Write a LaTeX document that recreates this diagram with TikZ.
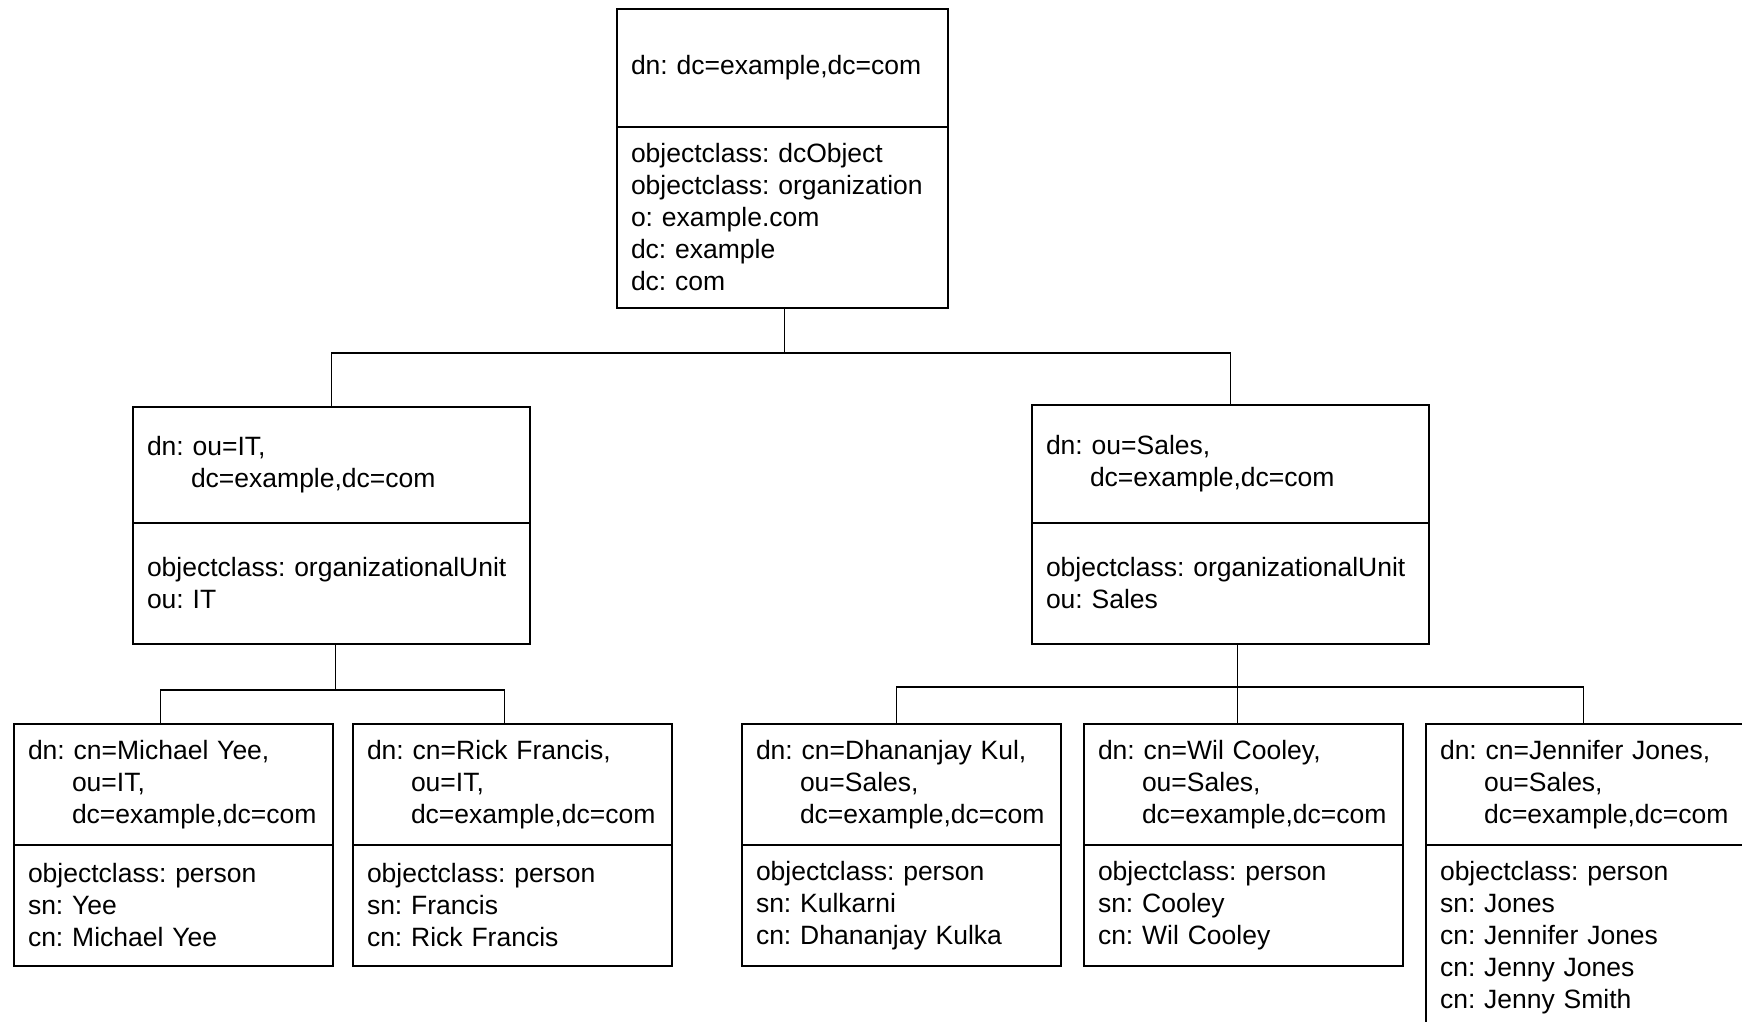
\documentclass[tikz,border=0pt]{standalone}
\usepackage{fontspec}
\setmainfont{Liberation Sans}
\usetikzlibrary{positioning}
\frenchspacing

\begin{document}
\begin{tikzpicture}[x=1pt, y=-1pt,
          entry/.style = {draw, line width=1.6pt, outer sep=0pt,
                          inner xsep=14pt, inner ysep=0pt, align=left,
                          font=\fontsize{26.5}{32}\selectfont\frenchspacing},
          rootbox/.style = {entry, text width=303pt},
          oubox/.style   = {entry, text width=369pt},
          cnbox/.style   = {entry, text width=291pt, minimum height=121pt},
          link/.style    = {line width=1.6pt}]
        \path[use as bounding box, clip] (0,0) rectangle (1742,1022);
        \fill[white] (0,0) rectangle (1742,1022);
        % root entry
        \node[rootbox, minimum height=118pt, anchor=north west] (root) at (617,9)
              {dn: dc=example,dc=com};
        \node[rootbox, minimum height=181pt, below=0pt of root] (rootattr)
              {objectclass: dcObject\\objectclass: organization\\o: example.com\\dc: example\\dc: com};
        % organizational units
        \node[oubox, minimum height=116pt, anchor=north west] (it) at (133,407)
              {dn: ou=IT,\\\hspace*{44pt}dc=example,dc=com};
        \node[oubox, minimum height=121pt, below=0pt of it] (itattr)
              {objectclass: organizationalUnit\\ou: IT};
        \node[oubox, minimum height=118pt, anchor=north west] (sales) at (1032,405)
              {dn: ou=Sales,\\\hspace*{44pt}dc=example,dc=com};
        \node[oubox, minimum height=121pt, below=0pt of sales] (salesattr)
              {objectclass: organizationalUnit\\ou: Sales};
        % persons
        \node[cnbox, anchor=north west] (mike) at (14,724)
              {dn: cn=Michael Yee,\\\hspace*{44pt}ou=IT,\\\hspace*{44pt}dc=example,dc=com};
        \node[cnbox, below=0pt of mike] (mikeattr)
              {objectclass: person\\sn: Yee\\cn: Michael Yee};
        \node[cnbox, anchor=north west] (rick) at (353,724)
              {dn: cn=Rick Francis,\\\hspace*{44pt}ou=IT,\\\hspace*{44pt}dc=example,dc=com};
        \node[cnbox, below=0pt of rick] (rickattr)
              {objectclass: person\\sn: Francis\\cn: Rick Francis};
        \node[cnbox, anchor=north west] (dhan) at (742,724)
              {dn: cn=Dhananjay Kul,\\\hspace*{44pt}ou=Sales,\\\hspace*{44pt}dc=example,dc=com};
        \node[cnbox, below=0pt of dhan] (dhanattr)
              {objectclass: person\\sn: Kulkarni\\cn: Dhananjay Kulka};
        \node[cnbox, anchor=north west] (wil) at (1084,724)
              {dn: cn=Wil Cooley,\\\hspace*{44pt}ou=Sales,\\\hspace*{44pt}dc=example,dc=com};
        \node[cnbox, below=0pt of wil] (wilattr)
              {objectclass: person\\sn: Cooley\\cn: Wil Cooley};
        \node[cnbox, anchor=north west] (jen) at (1426,724)
              {dn: cn=Jennifer Jones,\\\hspace*{44pt}ou=Sales,\\\hspace*{44pt}dc=example,dc=com};
        \node[cnbox, minimum height=186pt, below=0pt of jen] (jenattr)
              {objectclass: person\\sn: Jones\\cn: Jennifer Jones\\cn: Jenny Jones\\cn: Jenny Smith};
        % tree lines
        \draw[link] ([xshift=2pt]rootattr.south) -- ++(0,45) -| (it.north);
        \draw[link] ([xshift=2pt]rootattr.south) -- ++(0,45) -| (sales.north);
        \draw[link] ([xshift=4pt]itattr.south) -- ++(0,46) -| ([xshift=-13pt]mike.north);
        \draw[link] ([xshift=4pt]itattr.south) -- ++(0,46) -| ([xshift=-8pt]rick.north);
        \draw[link] ([xshift=7pt]salesattr.south) -- ++(0,43) -| ([xshift=-5pt]dhan.north);
        \draw[link] ([xshift=7pt]salesattr.south) -- ++(0,43) -| ([xshift=-6pt]wil.north);
        \draw[link] ([xshift=7pt]salesattr.south) -- ++(0,43) -| ([xshift=-2pt]jen.north);
      \end{tikzpicture}
\end{document}
